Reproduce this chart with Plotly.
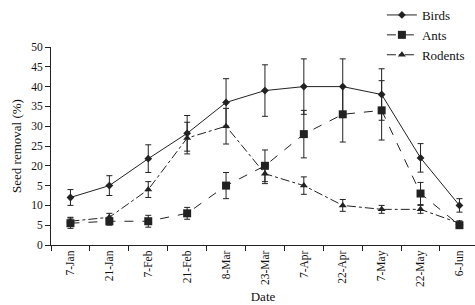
import plotly.graph_objects as go

dates = ["7-Jan", "21-Jan", "7-Feb", "21-Feb", "8-Mar", "23-Mar", "7-Apr", "22-Apr", "7-May", "22-May", "6-Jun"]
birds = [12, 15, 21.8, 28.2, 36, 39, 40, 40, 38, 22, 10]
birds_err = [2, 2.5, 3.5, 4.5, 6, 6.5, 7, 7, 6.5, 3.6, 1.7]
ants = [5.5, 6, 6, 8, 15, 20, 28, 33, 34, 13, 5]
ants_err = [1.3, 1, 1.5, 1.5, 3.3, 4, 6, 7, 7.5, 2.8, 0.6]
rodents = [6, 7, 14, 27, 30, 18, 15, 10, 9, 9, 5.5]
rodents_err = [1, 1, 2, 4, 4.5, 2.5, 2.2, 1.5, 1, 1, 0.6]
y_tickvals = [0, 5, 10, 15, 20, 25, 30, 35, 40, 45, 50]
y_ticktext = ["0", "5", "10", "5", "20", "25", "30", "35", "40", "45", "50"]

C = "#222222"
FONT = "Liberation Serif"

fig = go.Figure()
series = [
    ("Birds", birds, birds_err, "solid", "diamond", 6),
    ("Ants", ants, ants_err, "dash", "square", 8),
    ("Rodents", rodents, rodents_err, "dashdot", "triangle-up", 7),
]
for name, vals, errs, dash, sym, size in series:
    fig.add_trace(go.Scatter(
        x=dates, y=vals, name=name, mode="lines+markers",
        line=dict(color=C, width=1, dash=dash),
        marker=dict(symbol=sym, size=size, color=C),
        error_y=dict(type="data", array=errs, visible=True, color=C, thickness=1, width=3),
    ))

fig.update_layout(
    width=475, height=305,
    margin=dict(l=51, r=0, t=47, b=60, autoexpand=False),
    paper_bgcolor="white", plot_bgcolor="white",
    font=dict(family=FONT, size=11, color="#111"),
    showlegend=True,
    legend=dict(xref="container", yref="container", x=0.804, xanchor="left",
                y=1.012, yanchor="top",
                font=dict(family=FONT, size=13, color="#111"),
                bgcolor="rgba(0,0,0,0)", tracegroupgap=0, itemwidth=30),
    xaxis=dict(
        type="category", range=[-0.5, 10.4], tickson="boundaries",
        ticks="outside", ticklen=5, tickcolor=C, showline=True, linecolor=C, linewidth=1,
        tickangle=-90, showgrid=False, zeroline=False,
        title=dict(text="Date", font=dict(family=FONT, size=13), standoff=5),
        tickfont=dict(family=FONT, size=11.5),
    ),
    yaxis=dict(
        range=[0, 50], tickvals=y_tickvals, ticktext=y_ticktext,
        ticks="outside", ticklen=5, tickcolor=C, showline=True, linecolor=C, linewidth=1,
        showgrid=False, zeroline=False,
        title=dict(text="Seed removal (%)", font=dict(family=FONT, size=13), standoff=6),
        tickfont=dict(family=FONT, size=11.5),
    ),
)

fig.write_html("out.html")
